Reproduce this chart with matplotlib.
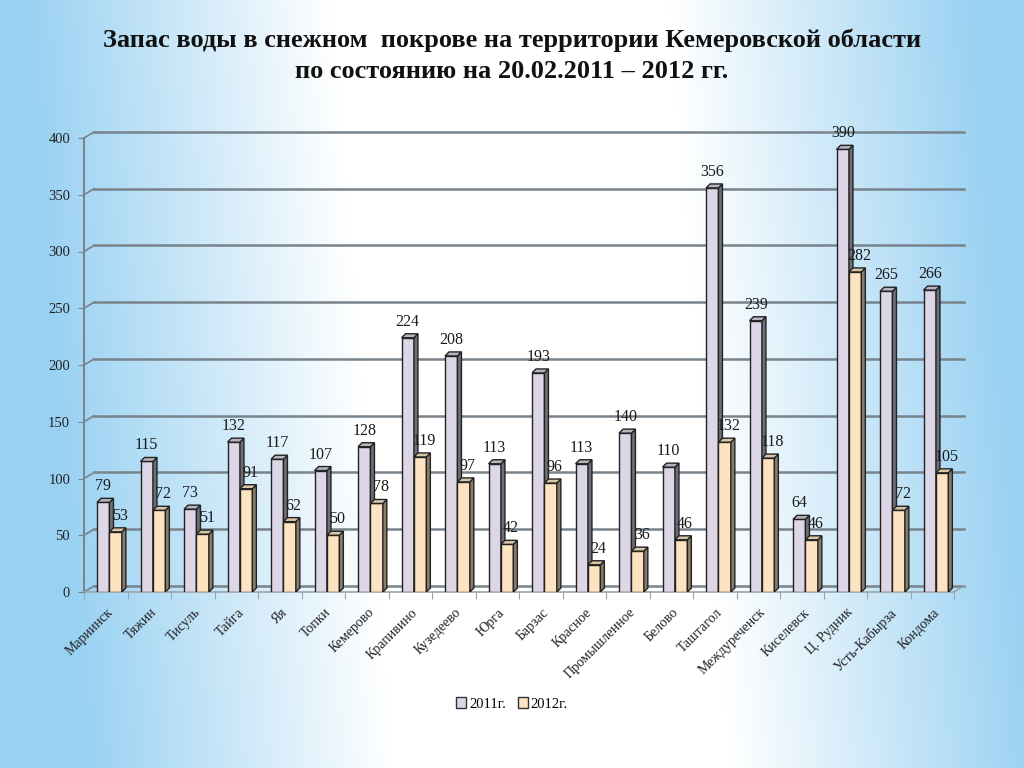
import numpy as np
import matplotlib.pyplot as plt
from matplotlib.patches import Patch

categories = ['Мариинск', 'Тяжин', 'Тисуль', 'Тайга', 'Яя', 'Топки', 'Кемерово',
              'Крапивино', 'Кузедеево', 'Юрга', 'Барзас', 'Красное', 'Промышленное',
              'Белово', 'Таштагол', 'Междуреченск', 'Киселевск', 'Ц. Рудник',
              'Усть-Кабырза', 'Кондома']
water_2011 = [79, 115, 73, 132, 117, 107, 128, 224, 208, 113, 193, 113, 140, 110,
              356, 239, 64, 390, 265, 266]
water_2012 = [53, 72, 51, 91, 62, 50, 78, 119, 97, 42, 96, 24, 36, 46,
              132, 118, 46, 282, 72, 105]
series_labels = ['2011г.', '2012г.']
yticks = [0, 50, 100, 150, 200, 250, 300, 350, 400]

title1 = 'Запас воды в снежном  покрове на территории Кемеровской области'
title2 = 'по состоянию на 20.02.2011 – 2012 гг.'

plt.rcParams['font.family'] = ['Liberation Serif', 'DejaVu Serif']

fig = plt.figure(figsize=(10.24, 7.68), dpi=100)

# background gradient (blue at the edges, white in the middle)
bg = fig.add_axes([0, 0, 1, 1], zorder=-10)
H, W = 768, 1024
yy, xx = np.mgrid[0:H, 0:W]
cx = 500 + 0.08 * yy
d = np.abs(xx - cx) / 512
t = np.clip((d - 0.33) / 0.6, 0, 1) ** 1.0
blue = np.array([0.60, 0.82, 0.95])
img = (1 - t[..., None]) * np.array([1.0, 1.0, 1.0]) + t[..., None] * blue
bg.imshow(img, aspect='auto')
bg.axis('off')

# main axes = front plane of the 3d chart
ax = fig.add_axes([84 / 1024, (768 - 592) / 768, 870 / 1024, (592 - 138) / 768])
n = len(categories)
xmin, xmax = -0.5, n - 0.5
ax.set_xlim(xmin, xmax)
ax.set_ylim(0, 400)
ax.patch.set_alpha(0)
for s in ax.spines.values():
    s.set_visible(False)

p0 = ax.transData.transform((0, 0))
p1 = ax.transData.transform((1, 1))
sx, sy = p1 - p0
wdx, wdy = 10 / sx, 6 / sy   # back wall offset
bdx, bdy = 4 / sx, 4 / sy    # bar depth

grid_c = '#78838b'
for v in yticks:
    ax.plot([xmin + wdx, xmax + wdx], [v + wdy, v + wdy], color=grid_c, lw=1.8,
            clip_on=False, zorder=1)
    ax.plot([xmin, xmin + wdx], [v, v + wdy], color=grid_c, lw=1.2, clip_on=False, zorder=1)
ax.plot([xmin, xmin], [0, 400], color=grid_c, lw=1.4, clip_on=False, zorder=1)
# floor
ax.plot([xmin, xmax], [0, 0], color='#9aa4aa', lw=1.2, clip_on=False, zorder=1)
ax.plot([xmax, xmax + wdx], [0, wdy], color='#9aa4aa', lw=1.2, clip_on=False, zorder=1)

bw = 0.285
offsets = [-0.2, -0.2 + bw]
fronts = ['#ddd6e6', '#fde3c1']
sides = ['#6f6f78', '#8a7d68']
tops = ['#b8b3c0', '#d9c6a6']
label_dx = [0, 4]
x = np.arange(n)

for k, vals in enumerate([water_2011, water_2012]):
    x0 = x + offsets[k]
    z = 3 + k
    ax.bar(x0, vals, bw, align='edge', color=fronts[k], edgecolor='#222222',
           lw=1.0, zorder=z)
    for xi, h in zip(x0, vals):
        xr = xi + bw
        ax.fill([xr, xr + bdx, xr + bdx, xr], [0, bdy, h + bdy, h],
                facecolor=sides[k], edgecolor='#222222', lw=1.0, zorder=z)
        ax.fill([xi, xi + bdx, xr + bdx, xr], [h, h + bdy, h + bdy, h],
                facecolor=tops[k], edgecolor='#222222', lw=1.0, zorder=z)
        ax.annotate(str(h), (xi + bw / 2, h), xytext=(label_dx[k], 8),
                    textcoords='offset pixels', ha='center', va='bottom',
                    fontsize=11.5, color='#1a1a1a', zorder=6)

ax.set_yticks(yticks)
ax.tick_params(axis='y', length=4, color=grid_c, pad=6, labelsize=10.5,
               labelcolor='#222222')
ax.set_xticks(np.arange(n + 1) - 0.5)
ax.set_xticklabels([])
ax.tick_params(axis='x', which='major', length=5, color='#9aa4aa')
ax.set_xticks(x + 0.02, minor=True)
ax.set_xticklabels(categories, minor=True, rotation=45, ha='right',
                   rotation_mode='anchor', fontsize=10, color='#222222')
ax.tick_params(axis='x', which='minor', length=0, pad=10)

fig.text(0.5, 1 - 40 / 768, title1, ha='center', va='center', fontsize=19,
         weight='bold', color='#111111')
fig.text(0.5, 1 - 72 / 768, title2, ha='center', va='center', fontsize=19,
         weight='bold', color='#111111')

handles = [Patch(facecolor=fronts[0], edgecolor='#333333'),
           Patch(facecolor=fronts[1], edgecolor='#333333')]
fig.legend(handles, series_labels, loc='center', bbox_to_anchor=(0.5, 1 - 704 / 768),
           ncol=2, frameon=False, fontsize=10.5, handlelength=0.7, handleheight=0.7,
           handletextpad=0.2, columnspacing=0.8)

fig.savefig('out.png', dpi=100)
